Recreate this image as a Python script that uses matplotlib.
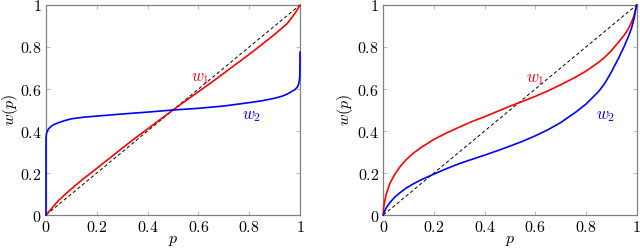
import matplotlib
matplotlib.use("Agg")
import matplotlib.pyplot as plt

plt.rcParams['mathtext.fontset'] = 'cm'
plt.rcParams['font.family'] = 'serif'
plt.rcParams['font.serif'] = ['DejaVu Serif']

# values
p_left_1 = [0.0, 0.05, 0.1, 0.15, 0.2, 0.25, 0.3, 0.35, 0.4, 0.45, 0.5, 0.55, 0.6,
            0.65, 0.7, 0.75, 0.8, 0.85, 0.9, 0.95, 0.98, 1.0]
w1_left = [0.0, 0.07, 0.125, 0.175, 0.222, 0.27, 0.318, 0.365, 0.41, 0.455, 0.5, 0.544,
           0.587, 0.63, 0.675, 0.72, 0.765, 0.812, 0.86, 0.912, 0.96, 1.0]

p_left_2 = [0.0, 0.0001, 0.0005, 0.002, 0.005, 0.01, 0.02, 0.03, 0.05, 0.075, 0.1, 0.15,
            0.2, 0.3, 0.4, 0.5, 0.6, 0.7, 0.8, 0.85, 0.9, 0.93, 0.95, 0.97, 0.98, 0.99,
            0.995, 0.998, 0.999, 0.9999, 1.0]
w2_left = [0.0, 0.36, 0.373, 0.387, 0.40, 0.41, 0.422, 0.43, 0.44, 0.45, 0.458, 0.466,
           0.471, 0.481, 0.49, 0.5, 0.508, 0.519, 0.535, 0.544, 0.556, 0.566, 0.576, 0.59,
           0.597, 0.61, 0.625, 0.645, 0.66, 0.72, 0.775]

p_right = [0.0, 0.001, 0.003, 0.0105, 0.026, 0.045, 0.066, 0.09, 0.118, 0.15, 0.2, 0.25,
           0.303, 0.35, 0.4, 0.45, 0.5, 0.55, 0.6, 0.65, 0.7, 0.76, 0.8, 0.85, 0.875,
           0.9, 0.93, 0.95, 0.96, 0.97, 0.98, 0.99, 1.0]
w1_right = [0.0, 0.028, 0.048, 0.095, 0.151, 0.193, 0.23, 0.263, 0.294, 0.322, 0.36,
            0.391, 0.42, 0.445, 0.468, 0.493, 0.518, 0.541, 0.565, 0.591, 0.62, 0.657,
            0.685, 0.727, 0.752, 0.782, 0.825, 0.855, 0.872, 0.893, 0.918, 0.95, 1.0]
w2_right = [0.0, 0.005, 0.011, 0.032, 0.059, 0.085, 0.106, 0.128, 0.148, 0.168, 0.195,
            0.221, 0.246, 0.265, 0.285, 0.306, 0.328, 0.351, 0.377, 0.406, 0.44, 0.49,
            0.528, 0.588, 0.628, 0.68, 0.75, 0.8, 0.828, 0.857, 0.89, 0.935, 1.0]

diag = [0.0, 1.0]
ticks = [0, 0.2, 0.4, 0.6, 0.8, 1]
tick_labels = ['$0$', '$0.2$', '$0.4$', '$0.6$', '$0.8$', '$1$']

fig = plt.figure(figsize=(6.4, 2.49), dpi=100)
ax1 = fig.add_axes([46 / 640, 34 / 249, 254 / 640, 210 / 249])
ax2 = fig.add_axes([383.3 / 640, 34 / 249, 253.3 / 640, 210 / 249])

panels = [
    (ax1, p_left_1, w1_left, p_left_2, w2_left, (0.606, 0.657), (0.81, 0.476), -0.14),
    (ax2, p_right, w1_right, p_right, w2_right, (0.599, 0.652), (0.879, 0.476), -0.151),
]

for ax, pa, w1, pb, w2, pos1, pos2, ylab_x in panels:
    ax.plot(diag, diag, color='black', lw=0.7, dashes=(3.5, 2.5))
    ax.plot(pa, w1, color='#ff0000', lw=1.2, clip_on=False, zorder=4)
    ax.plot(pb, w2, color='#0000ff', lw=1.2, clip_on=False, zorder=4)
    ax.text(pos1[0], pos1[1], '$w_1$', color='#ff0000', fontsize=12, ha='center', va='center')
    ax.text(pos2[0], pos2[1], '$w_2$', color='#0000ff', fontsize=12, ha='center', va='center')
    ax.set_xlim(0, 1)
    ax.set_ylim(0, 1)
    ax.set_xticks(ticks)
    ax.set_yticks(ticks)
    ax.set_xticklabels(tick_labels)
    ax.set_yticklabels(tick_labels)
    ax.tick_params(direction='in', top=True, right=True, length=3, width=0.6,
                   color='#b0b0b0', labelsize=11.5, pad=3)
    for s in ax.spines.values():
        s.set_color('#808080')
        s.set_linewidth(0.9)
    ax.set_xlabel('$p$', fontsize=11.5, va='center')
    ax.xaxis.set_label_coords(0.5, -0.115)
    ax.set_ylabel('$w(p)$', fontsize=11.5, va='center', ha='center')
    ax.yaxis.set_label_coords(ylab_x, 0.5)

fig.savefig('out.png', dpi=100)
